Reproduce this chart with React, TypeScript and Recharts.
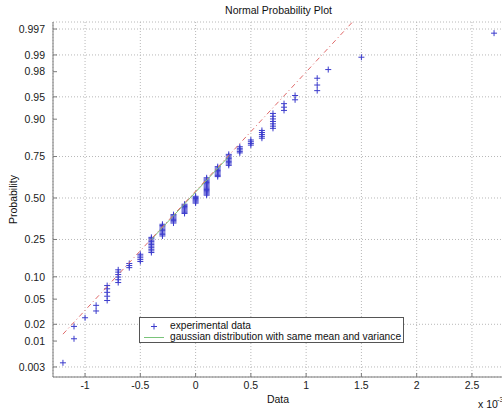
import React from 'react';
import { ScatterChart, Scatter, XAxis, YAxis, CartesianGrid, Legend } from 'recharts';

// sample values (x 10^-3) and how many samples sit on each value
const columnValues = [-1.2, -1.1, -1.0, -0.9, -0.8, -0.7, -0.6, -0.5, -0.4, -0.3, -0.2, -0.1, 0, 0.1, 0.2, 0.3, 0.4, 0.5, 0.6, 0.7, 0.8, 0.9, 1.1, 1.2, 1.5, 2.7];
const columnCounts = [1, 2, 1, 2, 5, 6, 3, 5, 11, 10, 8, 9, 7, 16, 9, 9, 5, 4, 5, 7, 3, 2, 3, 1, 1, 1];

const probTicks = [0.003, 0.01, 0.02, 0.05, 0.1, 0.25, 0.5, 0.75, 0.9, 0.95, 0.98, 0.99, 0.997];
const probTickLabels = ['0.003', '0.01', '0.02', '0.05', '0.10', '0.25', '0.50', '0.75', '0.90', '0.95', '0.98', '0.99', '0.997'];
const xTicks = [-1, -0.5, 0, 0.5, 1, 1.5, 2, 2.5];

// reference line (dash-dot) and the solid part between the quartiles
const fitLineX = [-1.2, 1.42];
const fitLineP = [0.0134, 0.9979];
const quartileX = [-0.4, 0.3];
const quartileP = [0.25, 0.75];

/** inverse normal CDF (Acklam) — used as the probability axis scale */
function norminv(p: number): number {
  const a = [-3.969683028665376e1, 2.209460984245205e2, -2.759285104469687e2, 1.38357751867269e2, -3.066479806614716e1, 2.506628277459239];
  const b = [-5.447609879822406e1, 1.615858368580409e2, -1.556989798598866e2, 6.680131188771972e1, -1.328068155288572e1];
  const c = [-7.784894002430293e-3, -3.223964580411365e-1, -2.400758277161838, -2.549732539343734, 4.374664141464968, 2.938163982698783];
  const d = [7.784695709041462e-3, 3.224671290700398e-1, 2.445134137142996, 3.754408661907416];
  const pl = 0.02425;
  if (p < pl) {
    const q = Math.sqrt(-2 * Math.log(p));
    return (((((c[0] * q + c[1]) * q + c[2]) * q + c[3]) * q + c[4]) * q + c[5]) / ((((d[0] * q + d[1]) * q + d[2]) * q + d[3]) * q + 1);
  }
  if (p > 1 - pl) {
    const q = Math.sqrt(-2 * Math.log(1 - p));
    return -(((((c[0] * q + c[1]) * q + c[2]) * q + c[3]) * q + c[4]) * q + c[5]) / ((((d[0] * q + d[1]) * q + d[2]) * q + d[3]) * q + 1);
  }
  const q = p - 0.5;
  const r = q * q;
  return ((((((a[0] * r + a[1]) * r + a[2]) * r + a[3]) * r + a[4]) * r + a[5]) * q) / (((((b[0] * r + b[1]) * r + b[2]) * r + b[3]) * r + b[4]) * r + 1);
}

const samples: number[] = [];
columnValues.forEach((v, i) => {
  for (let k = 0; k < columnCounts[i]; k++) samples.push(v);
});
const n = samples.length;
// plotting positions (i - 0.5) / n, as normplot does
const points = samples.map((x, i) => ({ x, z: norminv((i + 0.5) / n) }));
const fitData = fitLineX.map((x, i) => ({ x, z: norminv(fitLineP[i]) }));
const quartileData = quartileX.map((x, i) => ({ x, z: norminv(quartileP[i]) }));
const yTicks = probTicks.map(norminv);

const formatProb = (v: number) => {
  let best = 0;
  yTicks.forEach((t, i) => {
    if (Math.abs(t - v) < Math.abs(yTicks[best] - v)) best = i;
  });
  return probTickLabels[best];
};

const MARK = '#3b3bcc';
const AXIS = '#7a7a7a';
const FONT = '"Liberation Sans", Arial, sans-serif';
const FS = 10.5;

const Cross = (props: any) => {
  const { cx, cy } = props;
  if (cx == null || cy == null) return <g />;
  return <path d={`M${cx - 3},${cy}h6M${cx},${cy - 3}v6`} stroke={MARK} strokeWidth={1} fill="none" />;
};

const NoShape = () => <g />;

const LegendBox = () => (
  <div
    style={{
      width: 263,
      height: 24,
      border: '1px solid #555',
      background: '#fff',
      fontSize: 10.2,
      fontFamily: FONT,
      color: '#111',
      position: 'relative',
      whiteSpace: 'nowrap'
    }}
  >
    <svg width={30} height={24} style={{ position: 'absolute', left: 0, top: 0 }}>
      <path d="M11,8.5h6M14,5.5v6" stroke={MARK} strokeWidth={1} />
      <line x1={4} x2={24} y1={19.5} y2={19.5} stroke="#7ac47a" strokeWidth={1} />
    </svg>
    <div style={{ position: 'absolute', left: 30, top: 2, lineHeight: '11px' }}>experimental data</div>
    <div style={{ position: 'absolute', left: 30, top: 13, lineHeight: '11px' }}>gaussian distribution with same mean and variance</div>
  </div>
);

export default function App() {
  return (
    <div style={{ position: 'absolute', left: 0, top: 0, width: 502, height: 412, overflow: 'hidden', background: '#fff', fontFamily: FONT }}>
      <ScatterChart width={504} height={412} margin={{ top: 22, right: 0, bottom: 0, left: 0 }}>
        <CartesianGrid stroke="#b8b8b8" strokeDasharray="1 2" />
        <XAxis
          type="number"
          dataKey="x"
          domain={[-1.29, 2.79]}
          ticks={xTicks}
          allowDataOverflow
          height={35}
          stroke={AXIS}
          tickSize={-4}
          tickMargin={9}
          tick={{ fontSize: FS, fill: '#1a1a1a' }}
          tickFormatter={(v) => String(v)}
        />
        <XAxis
          xAxisId="top"
          orientation="top"
          type="number"
          domain={[-1.29, 2.79]}
          ticks={xTicks}
          allowDataOverflow
          height={0}
          stroke={AXIS}
          tickSize={-4}
          tick={false}
        />
        <YAxis
          type="number"
          dataKey="z"
          domain={[-2.911, 2.862]}
          ticks={yTicks}
          allowDataOverflow
          width={53}
          stroke={AXIS}
          tickSize={-4}
          tickMargin={12}
          tick={{ fontSize: FS, fill: '#1a1a1a' }}
          tickFormatter={formatProb}
        />
        <Scatter data={points} shape={Cross} isAnimationActive={false} />
        <Scatter data={quartileData} shape={NoShape} line={{ stroke: '#7ac47a', strokeWidth: 1 }} lineType="joint" isAnimationActive={false} />
        <Scatter data={fitData} shape={NoShape} line={{ stroke: '#e06a6a', strokeWidth: 1, strokeDasharray: '5 3 1 3' }} lineType="joint" isAnimationActive={false} />
        <Legend
          layout="horizontal"
          verticalAlign="middle"
          align="center"
          content={<LegendBox />}
          wrapperStyle={{ position: 'absolute', left: 139, top: 317, width: 265, height: 26 }}
        />
      </ScatterChart>
      <svg width={502} height={412} style={{ position: 'absolute', left: 0, top: 0, pointerEvents: 'none' }}>
        <text x={278.5} y={14} textAnchor="middle" fontSize={FS} fill="#111">Normal Probability Plot</text>
        <text x={278} y={403} textAnchor="middle" fontSize={FS} fill="#111">Data</text>
        <text transform="translate(17,199.5) rotate(-90)" textAnchor="middle" fontSize={FS} fill="#111">Probability</text>
        <text x={478} y={408} fontSize={FS} fill="#111">x 10</text>
        <text x={497} y={402} fontSize={7.5} fill="#111">-3</text>
      </svg>
    </div>
  );
}
